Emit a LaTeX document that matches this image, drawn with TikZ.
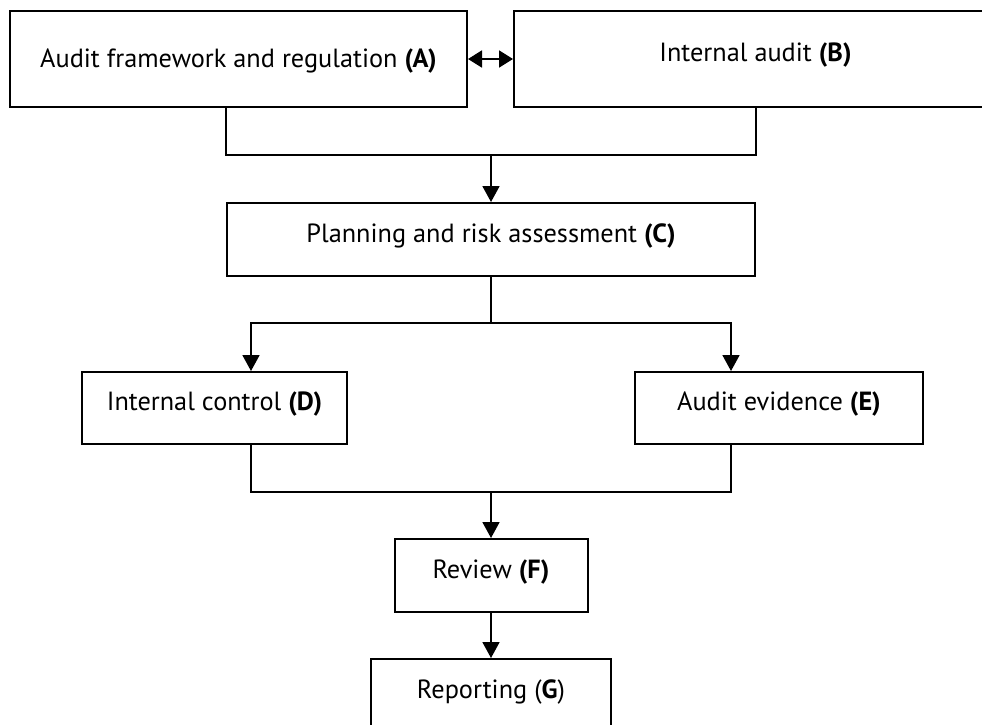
\documentclass[tikz,border=0pt]{standalone}
\usepackage{fontspec}
\setmainfont{PT Sans}
\usetikzlibrary{arrows.meta}

\begin{document}
\begin{tikzpicture}[x=1pt,y=-1pt,
  box/.style={draw, line width=2pt, inner sep=0pt, minimum height=73pt,
    text height=19pt, text depth=13.5pt, font=\fontsize{26.3}{30}\selectfont},
  flow/.style={-{Triangle[length=16pt,width=17pt]}, line width=1.8pt},
  both/.style={{Triangle[length=14pt,width=17pt]}-{Triangle[length=14pt,width=17pt]}, line width=1.8pt},
  link/.style={line width=1.8pt}]

\useasboundingbox (0,0) rectangle (982,724);
\clip (0,0) rectangle (982,724);

% Boxes, placed at their centres
\node[box, minimum width=457pt, minimum height=96pt, text depth=3pt] (frame) at (238.5,59) {Audit framework and regulation \textbf{(A)}};
\node[box, minimum width=483pt, minimum height=96pt] (internal) at (755.5,59) {Internal audit \textbf{(B)}};
\node[box, minimum width=528pt] (plan) at (491,239.5) {Planning and risk assessment \textbf{(C)}};
\node[box, minimum width=265pt, minimum height=72pt] (control) at (214.5,408) {Internal control \textbf{(D)}};
\node[box, minimum width=288pt, minimum height=72pt] (evidence) at (779,408) {Audit evidence \textbf{(E)}};
\node[box, minimum width=193pt] (review) at (491,575.5) {Review \textbf{(F)}};
\node[box, minimum width=240pt] (report) at (491,695.5) {Reporting (\textbf{G})};

% Junction points of the connectors
\coordinate (join) at (491,155);
\coordinate (split) at (491,323);
\coordinate (merge) at (491,492);

% Connectors
\draw[both] (frame.east) -- (internal.west);
\draw[link] (frame.south -| plan.west) |- (join) -| (internal.south -| plan.east);
\draw[flow] (join) -- (plan);
\draw[link] (plan) -- (split);
\draw[flow] (split) -| ([xshift=36.5pt]control.north);
\draw[flow] (split) -| ([xshift=-48pt]evidence.north);
\draw[link] ([xshift=36.5pt]control.south) |- (merge) -| ([xshift=-48pt]evidence.south);
\draw[flow] (merge) -- (review);
\draw[flow] (review) -- (report);

\end{tikzpicture}
\end{document}
